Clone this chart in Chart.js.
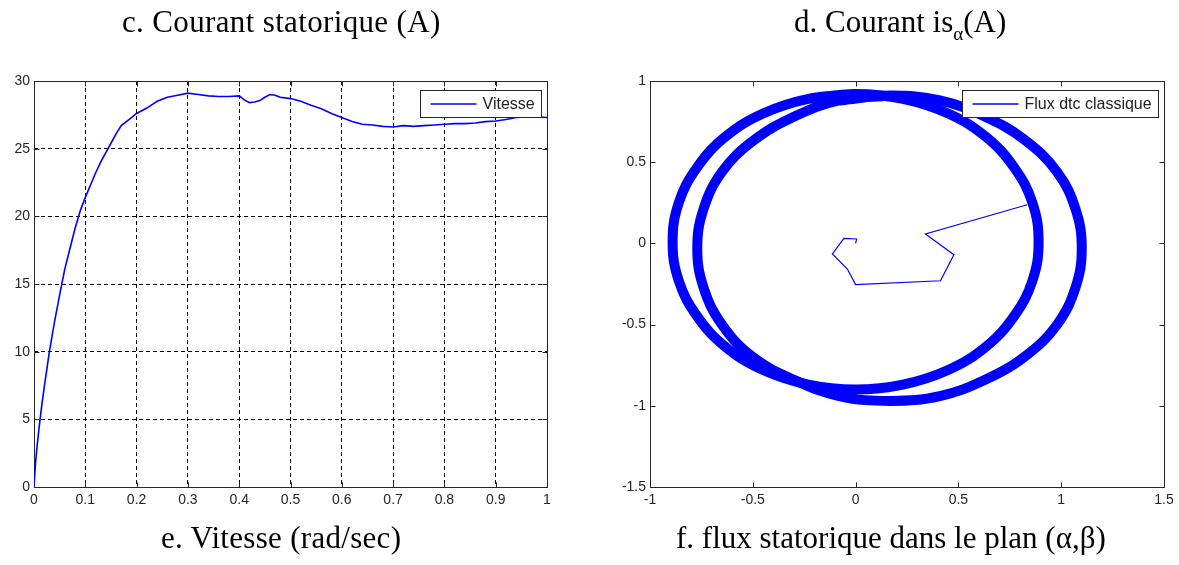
<!DOCTYPE html>
<html><head><meta charset="utf-8">
<script src="https://cdn.jsdelivr.net/npm/chart.js@4/dist/chart.umd.min.js"></script>
<style>
html,body{margin:0;padding:0;background:#fff;width:1179px;height:565px;overflow:hidden;}
canvas{position:absolute;left:0;top:0;}
.cap{position:absolute;font-family:"Liberation Serif","Times New Roman",serif;font-size:31px;line-height:31px;color:#000;white-space:nowrap;}
.sub{font-size:19px;position:relative;top:8px;}
</style></head><body>
<canvas id="c1" width="1179" height="565"></canvas>
<canvas id="c2" width="1179" height="565"></canvas>
<div class="cap" style="left:122px;top:6px;letter-spacing:0.35px">c. Courant statorique (A)</div>
<div class="cap" style="left:794px;top:6px">d. Courant is<span class="sub">α</span>(A)</div>
<div class="cap" style="left:161px;top:522px;letter-spacing:0.3px">e. Vitesse (rad/sec)</div>
<div class="cap" style="left:676px;top:522px">f. flux statorique dans le plan (α,β)</div>
<script>
// ---- Vitesse (left chart) ----
const timeS = [0, 0.003, 0.006, 0.01, 0.015, 0.02, 0.025, 0.03, 0.04, 0.05, 0.06, 0.07, 0.08, 0.09, 0.1, 0.11, 0.12, 0.13, 0.14, 0.15, 0.16, 0.17, 0.18, 0.19, 0.2, 0.22, 0.24, 0.26, 0.28, 0.3, 0.32, 0.34, 0.36, 0.38, 0.4, 0.41, 0.42, 0.43, 0.44, 0.45, 0.46, 0.47, 0.48, 0.5, 0.52, 0.54, 0.56, 0.58, 0.6, 0.62, 0.64, 0.66, 0.68, 0.7, 0.72, 0.74, 0.76, 0.78, 0.8, 0.82, 0.84, 0.86, 0.88, 0.9, 0.92, 0.94, 0.96, 0.98, 1.0];
const vitesse = [0, 1.8, 3.0, 4.4, 6.0, 7.4, 8.7, 10.0, 12.2, 14.2, 16.1, 17.6, 19.1, 20.4, 21.4, 22.3, 23.2, 24.0, 24.7, 25.4, 26.1, 26.7, 27.0, 27.3, 27.6, 28.0, 28.5, 28.8, 28.95, 29.1, 29.0, 28.9, 28.85, 28.85, 28.9, 28.6, 28.4, 28.45, 28.55, 28.8, 29.0, 28.95, 28.8, 28.7, 28.5, 28.2, 27.95, 27.6, 27.3, 27.0, 26.8, 26.75, 26.65, 26.6, 26.7, 26.65, 26.7, 26.75, 26.8, 26.85, 26.85, 26.9, 27.0, 27.05, 27.15, 27.3, 27.35, 27.35, 27.3];
const xTicksV = ['0', '0.1', '0.2', '0.3', '0.4', '0.5', '0.6', '0.7', '0.8', '0.9', '1'];
const yTicksV = ['0', '5', '10', '15', '20', '25', '30'];

// ---- Flux (right chart) ----
const transAlpha = [0, 0.005, -0.057, -0.113, -0.04, 0.0, 0.413, 0.478, 0.34, 0.835];
const transBeta  = [0, 0.027, 0.031, -0.065, -0.158, -0.254, -0.23, -0.07, 0.058, 0.238];
const loop1Alpha = [0.17, -0.08, -0.30, -0.50, -0.65, -0.74, -0.77, -0.74, -0.65, -0.50, -0.30, -0.08, 0.17, 0.41, 0.63, 0.83, 0.98, 1.07, 1.10, 1.07, 0.98, 0.82, 0.63, 0.41, 0.17, -0.08];
const loop1Beta  = [0.91, 0.88, 0.78, 0.63, 0.44, 0.21, -0.03, -0.27, -0.50, -0.70, -0.84, -0.94, -0.97, -0.94, -0.84, -0.69, -0.50, -0.27, -0.03, 0.21, 0.44, 0.64, 0.78, 0.88, 0.91, 0.88];
const loop2Alpha = [0.00, -0.23, -0.45, -0.63, -0.77, -0.86, -0.89, -0.86, -0.77, -0.63, -0.45, -0.23, 0.00, 0.23, 0.45, 0.63, 0.77, 0.86, 0.89, 0.86, 0.77, 0.63, 0.45, 0.23, 0.00, -0.23];
const loop2Beta  = [0.92, 0.89, 0.80, 0.66, 0.47, 0.25, 0.01, -0.23, -0.45, -0.64, -0.78, -0.87, -0.90, -0.87, -0.78, -0.64, -0.45, -0.23, 0.01, 0.25, 0.47, 0.66, 0.80, 0.89, 0.92, 0.89];
const xTicksF = ['-1', '-0.5', '0', '0.5', '1', '1.5'];
const yTicksF = ['-1.5', '-1', '-0.5', '0', '0.5', '1'];

const BLUE = 'rgb(0,0,255)';
const AXC = '#262626';
const tickFont = {family: '"Liberation Sans", Arial, sans-serif', size: 14};

function pts(xs, ys) { return xs.map((x, i) => ({x: x, y: ys[i]})); }

const frame = {
  id: 'frame',
  beforeDatasetsDraw(chart) {
    const ctx = chart.ctx, a = chart.chartArea;
    const L = Math.round(a.left) + 0.5, R = Math.round(a.right) + 0.5, T = Math.round(a.top) + 0.5, B = Math.round(a.bottom) + 0.5;
    ctx.save();
    ctx.strokeStyle = AXC; ctx.lineWidth = 1; ctx.setLineDash([]);
    ctx.strokeRect(L, T, R - L, B - T);
    const xs = chart.scales.x, ys = chart.scales.y;
    ctx.beginPath();
    xs.ticks.forEach(t => { const p = Math.round(xs.getPixelForValue(t.value)) + 0.5; ctx.moveTo(p, B); ctx.lineTo(p, B - 5); ctx.moveTo(p, T); ctx.lineTo(p, T + 5); });
    ys.ticks.forEach(t => { const p = Math.round(ys.getPixelForValue(t.value)) + 0.5; ctx.moveTo(L, p); ctx.lineTo(L + 5, p); ctx.moveTo(R, p); ctx.lineTo(R - 5, p); });
    ctx.stroke();
    ctx.restore();
  }
};

const boxLegend = {
  id: 'boxLegend',
  afterDatasetsDraw(chart) {
    const ds = chart.data.datasets[0];
    const ctx = chart.ctx, a = chart.chartArea;
    ctx.save();
    ctx.font = '16px "Liberation Sans", Arial, sans-serif';
    const tw = ctx.measureText(ds.label).width;
    const w = Math.round(10 + 46 + 6 + tw + 7), h = 27;
    const x = Math.round(a.right - 6 - w) + 0.5, y = Math.round(a.top + 9) + 0.5;
    ctx.fillStyle = '#fff'; ctx.fillRect(x, y, w, h);
    ctx.strokeStyle = AXC; ctx.lineWidth = 1; ctx.strokeRect(x, y, w, h);
    ctx.strokeStyle = ds.borderColor; ctx.lineWidth = 1.3;
    ctx.beginPath(); ctx.moveTo(x + 10, y + h / 2); ctx.lineTo(x + 56, y + h / 2); ctx.stroke();
    ctx.fillStyle = '#222'; ctx.textBaseline = 'middle'; ctx.textAlign = 'left';
    ctx.fillText(ds.label, x + 62, y + h / 2 + 1);
    ctx.restore();
  }
};

function xScale(min, max, step, labels, grid) {
  return {
    type: 'linear', min: min, max: max,
    afterFit(s) { s.height = 78; },
    grid: grid ? {display: true, color: '#000', lineWidth: 1, drawTicks: false} : {display: false, drawTicks: false},
    border: {display: false, dash: [4, 3]},
    ticks: {stepSize: step, padding: 5, color: AXC, font: tickFont, maxRotation: 0, autoSkip: false,
            callback: (v, i) => labels[i]}
  };
}
function yScale(min, max, step, labels, grid, width) {
  return {
    type: 'linear', min: min, max: max,
    afterFit(s) { s.width = width; },
    grid: grid ? {display: true, color: '#000', lineWidth: 1, drawTicks: false} : {display: false, drawTicks: false},
    border: {display: false, dash: [4, 3]},
    ticks: {stepSize: step, padding: 4, color: AXC, font: tickFont, autoSkip: false,
            callback: (v, i) => labels[i]}
  };
}

new Chart(document.getElementById('c1'), {
  type: 'line',
  data: {datasets: [{label: 'Vitesse', data: pts(timeS, vitesse), borderColor: BLUE, borderWidth: 1.6, pointRadius: 0, tension: 0, fill: false}]},
  options: {
    responsive: false, animation: false, devicePixelRatio: 1,
    layout: {padding: {left: 0, top: 81, right: 632, bottom: 0}},
    plugins: {legend: {display: false}, tooltip: {enabled: false}},
    scales: {x: xScale(0, 1, 0.1, xTicksV, true), y: yScale(0, 30, 5, yTicksV, true, 34)}
  },
  plugins: [frame, boxLegend]
});

new Chart(document.getElementById('c2'), {
  type: 'scatter',
  data: {datasets: [
    {label: 'Flux dtc classique', data: pts(transAlpha, transBeta), showLine: true, borderColor: BLUE, borderWidth: 1.2, pointRadius: 0, tension: 0},
    {label: 'loop1', data: pts(loop1Alpha, loop1Beta), showLine: true, borderColor: BLUE, borderWidth: 10, pointRadius: 0, tension: 0.4},
    {label: 'loop2', data: pts(loop2Alpha, loop2Beta), showLine: true, borderColor: BLUE, borderWidth: 10, pointRadius: 0, tension: 0.4}
  ]},
  options: {
    responsive: false, animation: false, devicePixelRatio: 1,
    layout: {padding: {left: 610, top: 81, right: 15, bottom: 0}},
    plugins: {legend: {display: false}, tooltip: {enabled: false}},
    scales: {x: xScale(-1, 1.5, 0.5, xTicksF, false), y: yScale(-1.5, 1, 0.5, yTicksF, false, 40)}
  },
  plugins: [frame, boxLegend]
});
</script>
</body></html>
